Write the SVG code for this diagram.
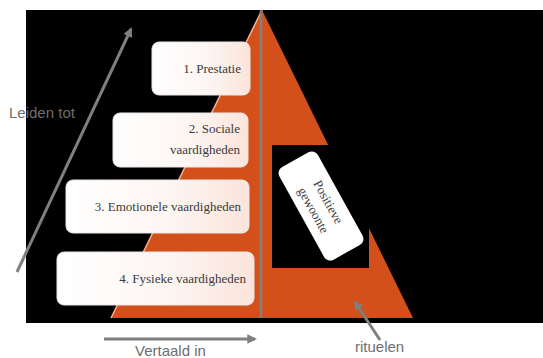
<svg xmlns="http://www.w3.org/2000/svg" width="543" height="358" viewBox="0 0 543 358">
<defs>
<linearGradient id="boxg" x1="0" y1="0" x2="1" y2="0">
<stop offset="0" stop-color="#ffffff"/>
<stop offset="0.55" stop-color="#fdf6f3"/>
<stop offset="1" stop-color="#fbe4da"/>
</linearGradient>
<marker id="ah" viewBox="0 0 10 10" refX="8" refY="5" markerWidth="3.2" markerHeight="3.2" orient="auto" markerUnits="strokeWidth">
<path d="M0,0 L10,5 L0,10 z" fill="#7f7f7f"/>
</marker>
<style>
.box{fill:url(#boxg);stroke:#e8e8e8;stroke-width:1}
.bt{font-family:"Liberation Serif",serif;font-size:13px;fill:#3a3a3a;text-anchor:end}
.lbl{font-family:"Liberation Sans",Arial,sans-serif;font-size:15px;fill:#6e6e6e}
.arr{stroke:#7f7f7f;stroke-width:3;fill:none;marker-end:url(#ah)}
</style>
</defs>
<rect x="0" y="0" width="543" height="358" fill="#ffffff"/>
<rect x="26" y="10" width="517" height="313" fill="#000000"/>
<g id="pyramid">
<polygon points="262,10 111,318 413,318" fill="#d4501a"/>
<line x1="262" y1="10" x2="111" y2="318" stroke="#f6b08c" stroke-width="1.5"/>
<line x1="261" y1="10" x2="261" y2="318" stroke="#7f7f7f" stroke-width="2.5"/>
</g>
<g id="node-1">
<rect class="box" x="152" y="42" width="98" height="53" rx="7"/>
<text class="bt" x="241" y="73">1. Prestatie</text>
</g>
<g id="node-2">
<rect class="box" x="113" y="113" width="135" height="54" rx="7"/>
<text class="bt" x="240" y="133">2. Sociale</text>
<text class="bt" x="240" y="154">vaardigheden</text>
</g>
<g id="node-3">
<rect class="box" x="66" y="180" width="183" height="53" rx="7"/>
<text class="bt" x="241" y="211">3. Emotionele vaardigheden</text>
</g>
<g id="node-4">
<rect class="box" x="57" y="252" width="197" height="53" rx="7"/>
<text class="bt" x="246" y="283">4. Fysieke vaardigheden</text>
</g>
<g id="node-5">
<rect x="272" y="145" width="97" height="123" fill="#000000"/>
<g transform="translate(321,206) rotate(61)">
<rect x="-53" y="-22" width="106" height="44" rx="7" fill="#ffffff"/>
<text font-family="Liberation Serif,serif" font-size="13" fill="#3a3a3a" text-anchor="middle" x="0" y="-4">Positieve</text>
<text font-family="Liberation Serif,serif" font-size="13" fill="#3a3a3a" text-anchor="middle" x="0" y="13">gewoonte</text>
</g>
</g>
<g id="connectors">
<line class="arr" x1="17" y1="272" x2="131" y2="29"/>
<line class="arr" x1="104" y1="339" x2="255" y2="339"/>
<line class="arr" x1="380" y1="340" x2="355" y2="302"/>
</g>
<text class="lbl" x="9" y="118">Leiden tot</text>
<text class="lbl" x="135" y="356">Vertaald in</text>
<text class="lbl" x="355" y="352">rituelen</text>
</svg>
